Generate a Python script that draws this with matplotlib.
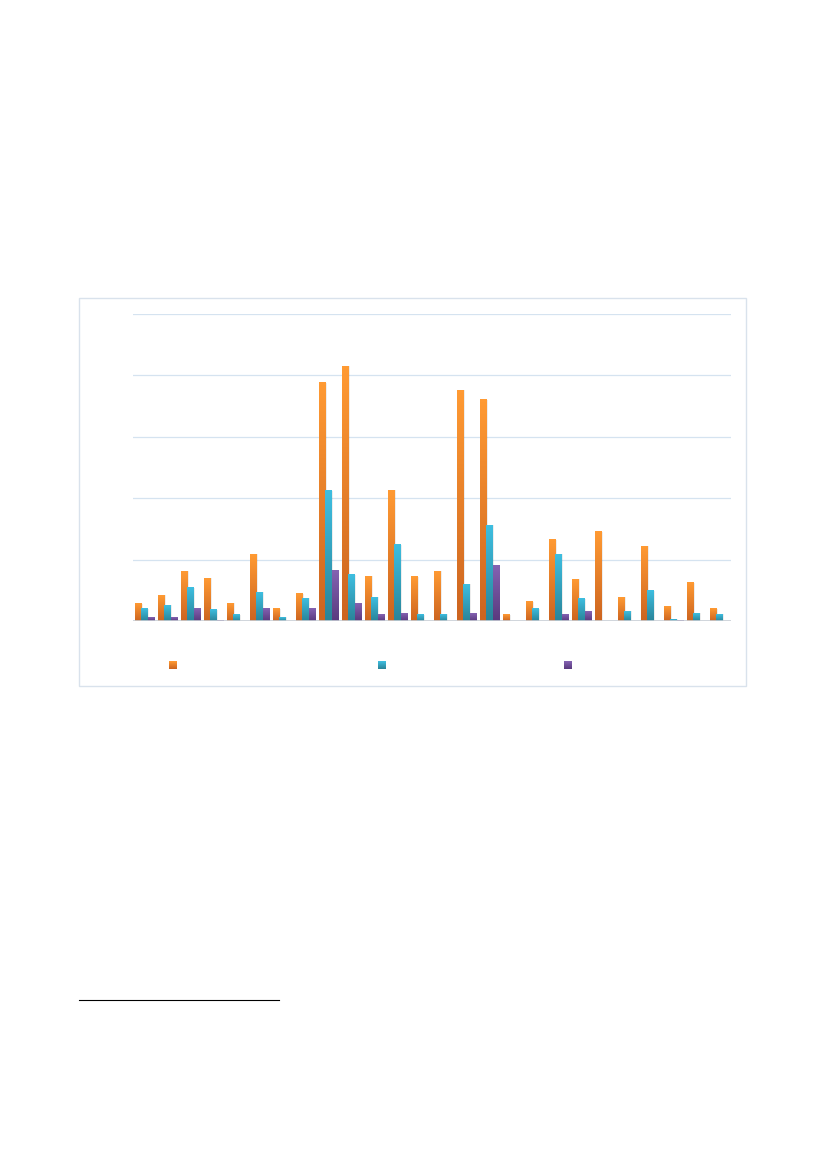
import numpy as np
import matplotlib.pyplot as plt
from matplotlib.colors import LinearSegmentedColormap
from matplotlib.patches import Rectangle
from matplotlib.lines import Line2D

# values, in gridline units (5 gridlines above the baseline)
series_a = [0.28, 0.42, 0.81, 0.70, 0.29, 1.09, 0.20, 0.44, 3.88, 4.15, 0.73, 2.13, 0.72,
            0.81, 3.76, 3.60, 0.10, 0.31, 1.32, 0.68, 1.45, 0.39, 1.22, 0.24, 0.62, 0.20]
series_b = [0.20, 0.26, 0.54, 0.18, 0.10, 0.47, 0.065, 0.37, 2.12, 0.75, 0.39, 1.24, 0.10,
            0.11, 0.60, 1.56, 0.0, 0.20, 1.09, 0.36, 0.0, 0.16, 0.49, 0.03, 0.13, 0.11]
series_c = [0.065, 0.065, 0.20, 0.016, 0.0, 0.21, 0.0, 0.21, 0.83, 0.29, 0.11, 0.13, 0.0,
            0.0, 0.13, 0.91, 0.0, 0.0, 0.10, 0.16, 0.0, 0.0, 0.0, 0.016, 0.0, 0.0]

# (top colour, bottom colour) for the gradient fills
GRADS = [("#FF9A33", "#CC6420"), ("#3EBEE0", "#2A8499"), ("#8462B2", "#5A3A7E")]
# legend marker positions (left edge, px) - labels are not visible in the original
LEGEND_X = [169, 378, 564]


def grad_bar(ax, x, w, h, top, bottom):
    if h <= 0:
        return
    # soft shadow to the right
    ax.add_patch(Rectangle((x + 0.05, 0), w, h, color="black", alpha=0.07, lw=0, zorder=2))
    cmap = LinearSegmentedColormap.from_list("g", [bottom, top])
    grad = np.linspace(0, 1, 64).reshape(-1, 1)
    ax.imshow(grad, extent=[x, x + w, 0, h], origin="lower", cmap=cmap,
              aspect="auto", zorder=3, interpolation="bilinear")


def main():
    fig = plt.figure(figsize=(8.27, 11.69), dpi=100)

    # chart frame
    fig.patches.append(Rectangle((79 / 827, 1 - 686 / 1169), 667 / 827, 388 / 1169,
                                 transform=fig.transFigure, fill=False,
                                 ec="#D9E2EC", lw=1.0))
    # footnote rule
    fig.lines.append(Line2D([79 / 827, 279 / 827], [1 - 1000 / 1169] * 2,
                            transform=fig.transFigure, color="black", lw=0.8))

    ax = fig.add_axes([133 / 827, 1 - 621 / 1169, 598 / 827, 307 / 1169])
    n = len(series_a)
    x = np.arange(n)
    w = 0.265
    for k, vals in enumerate([series_a, series_b, series_c]):
        top, bottom = GRADS[k]
        for i in range(n):
            grad_bar(ax, x[i] + (k - 1.5) * w, w, vals[i], top, bottom)

    ax.set_xlim(-0.5, n - 0.5)
    ax.set_ylim(0, 5)
    ax.set_yticks(range(6))
    ax.grid(axis="y", color="#D5E3F0", lw=0.9, zorder=0)
    ax.set_axisbelow(True)
    ax.axhline(0, color="#C9CFD6", lw=1.2, zorder=4)
    for s in ax.spines.values():
        s.set_visible(False)
    ax.tick_params(left=False, bottom=False, labelleft=False, labelbottom=False)

    # legend markers
    for k, lx in enumerate(LEGEND_X):
        top, bottom = GRADS[k]
        cax = fig.add_axes([lx / 827, 1 - 669 / 1169, 8 / 827, 8 / 1169])
        cax.imshow(np.linspace(0, 1, 16).reshape(-1, 1), origin="lower", aspect="auto",
                   cmap=LinearSegmentedColormap.from_list("g", [bottom, top]))
        cax.axis("off")

    fig.savefig("out.png", dpi=100)


if __name__ == "__main__":
    main()
